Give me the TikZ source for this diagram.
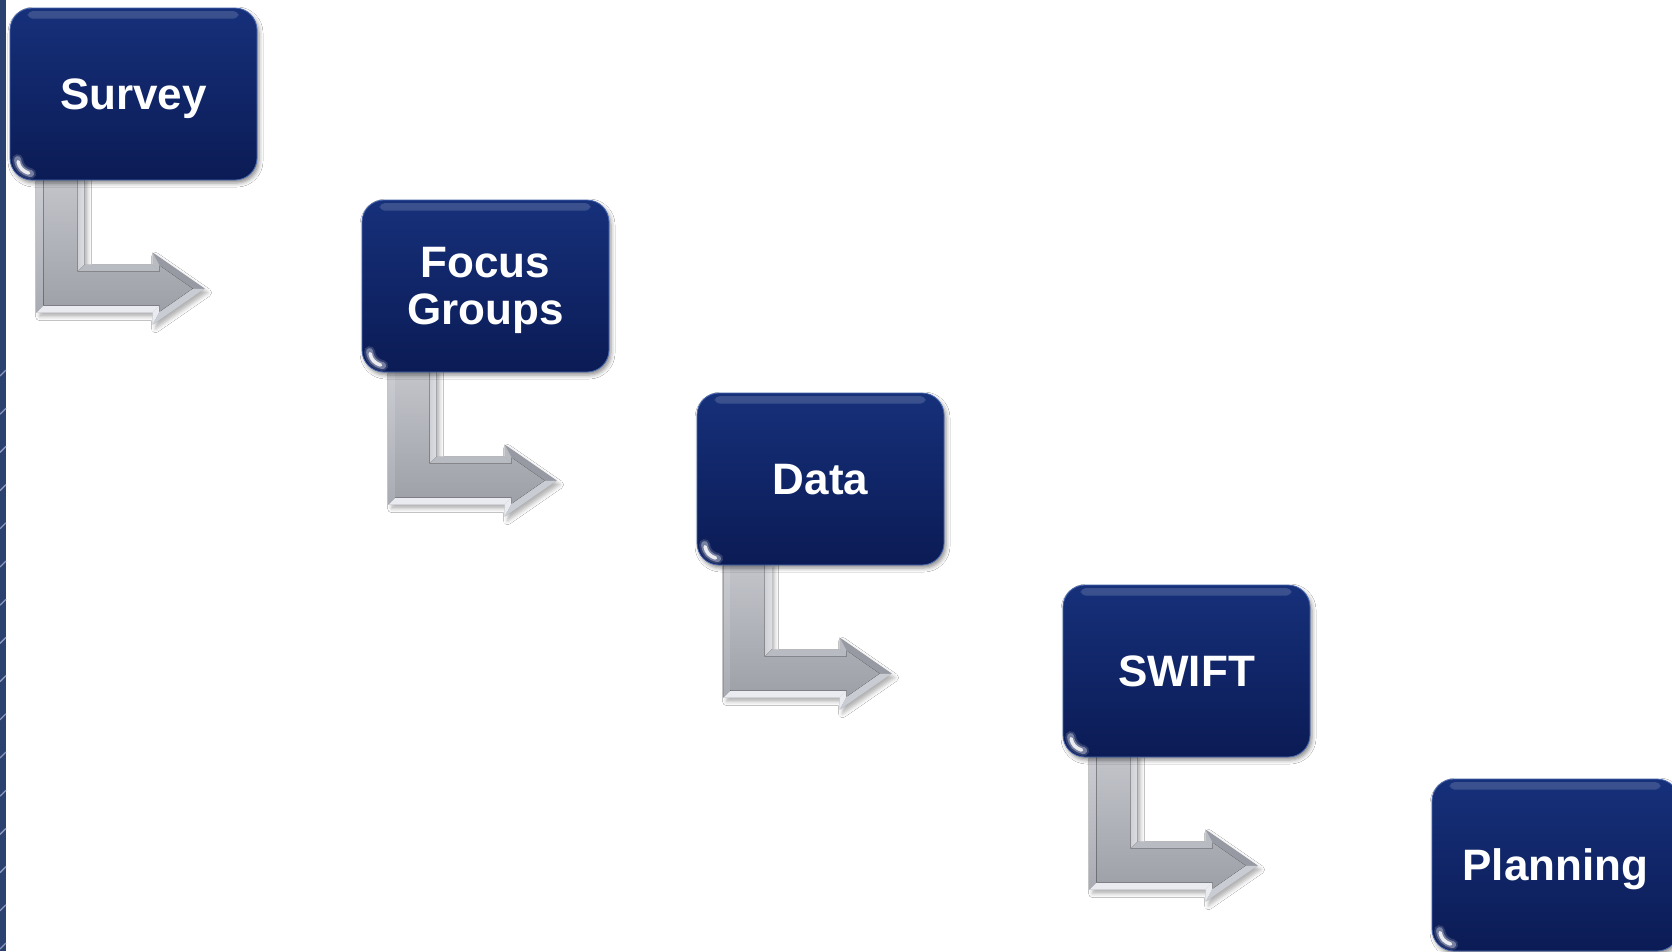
\documentclass[tikz,border=0pt]{standalone}
\usepackage{fontspec}
\setmainfont{Liberation Sans}
\usetikzlibrary{shadows.blur,backgrounds}

\definecolor{navytop}{HTML}{16307A}
\definecolor{navybot}{HTML}{0B1B55}
\definecolor{navyedge}{HTML}{4A68B0}
\definecolor{strip}{HTML}{2B4170}
\definecolor{tick}{HTML}{8A98BE}
\definecolor{facetop}{HTML}{C3C5CB}
\definecolor{facebot}{HTML}{9EA0A8}
\definecolor{lefttop}{HTML}{CBCDD3}
\definecolor{leftbot}{HTML}{A9ABB2}
\definecolor{bevlight}{HTML}{E9EBF0}
\definecolor{bevinner}{HTML}{DCDEE4}
\definecolor{bevshelf}{HTML}{B9BBC2}
\definecolor{bevdark}{HTML}{979AA2}
\definecolor{bevlow}{HTML}{CACCD3}

\tikzset{
  stagebox/.style={rounded corners=22pt, minimum width=247pt, minimum height=172pt,
    inner sep=0pt, text=white, font=\bfseries\fontsize{44}{47}\selectfont,
    align=center, text depth=0pt, top color=navytop, bottom color=navybot,
    draw=navyedge, line width=0.8pt,
    blur shadow={shadow xshift=2pt, shadow yshift=-3pt, shadow blur radius=4pt, shadow opacity=45}},
  arrowshadow/.style={blur shadow={shadow xshift=3pt, shadow yshift=-4pt, shadow blur radius=4pt, shadow opacity=30}},
  gloss/.style={white, opacity=.16},
  glint/.style={white, line cap=round},
}

% bent steel arrow hanging below a stage box; its tip is stored as a coordinate
\newcommand{\bentarrow}[2]{%
  \begin{scope}[shift={(#1.north west)}]
    % outline with shadow
    \fill[facebot, arrowshadow]
      (27,170) -- (27,305) -- (143,305) -- (143,317) -- (195,281) -- (143,245)
      -- (143,257) -- (75,257) -- (75,170) -- cycle;
    % bevel facets
    \fill[top color=lefttop, bottom color=leftbot] (27,170) -- (27,305) -- (34,298) -- (34,170) -- cycle;
    \fill[bevlight] (27,305) -- (143,305) -- (150,298) -- (34,298) -- cycle;
    \fill[bevlight] (143,305) -- (143,317) -- (150,304) -- (150,298) -- cycle;
    \fill[bevlow] (143,317) -- (195,281) -- (183,281) -- (150,304) -- cycle;
    \fill[bevdark] (195,281) -- (143,245) -- (150,258) -- (183,281) -- cycle;
    \fill[bevshelf] (143,245) -- (143,257) -- (150,264) -- (150,258) -- cycle;
    \fill[bevshelf] (143,257) -- (75,257) -- (68,264) -- (150,264) -- cycle;
    \fill[left color=bevinner!85!gray, right color=bevinner] (75,257) -- (75,170) -- (68,170) -- (68,264) -- cycle;
    % main face
    \fill[top color=facetop, bottom color=facebot]
      (34,170) -- (34,298) -- (150,298) -- (150,304) -- (183,281) -- (150,258)
      -- (150,264) -- (68,264) -- (68,170) -- cycle;
    \coordinate (#2) at (195,281);
  \end{scope}}

% glossy rim and lower-left glint of a stage box
\newcommand{\boxgloss}[1]{%
  \begin{scope}[shift={(#1.north west)}]
    \fill[gloss, rounded corners=5pt] (18,3.5) rectangle (229,11);
    \draw[glint, line width=11pt, opacity=.15] (8,152) .. controls (9,160) and (13,164) .. (21,166);
    \draw[glint, line width=7pt, opacity=.35] (8,152) .. controls (9,160) and (13,164) .. (21,166);
    \draw[glint, line width=3.5pt, opacity=.85] (8.5,154) .. controls (9.5,160) and (13,163.5) .. (19,165.5);
  \end{scope}}

\begin{document}
\begin{tikzpicture}[x=1pt, y=-1pt]
  \useasboundingbox (0,0) rectangle (1672,951);
  \clip (0,0) rectangle (1672,951);

  % stage boxes
  \node[stagebox] (survey)   at (133.5,94)   {Survey};
  \node[stagebox] (focus)    at (485.5,286)  {Focus\\Groups};
  \node[stagebox] (data)     at (820.5,479)  {Data};
  \node[stagebox] (swift)    at (1186.5,671) {SWIFT};
  \node[stagebox] (planning) at (1555.5,865) {Planning};

  \boxgloss{survey}
  \boxgloss{focus}
  \boxgloss{data}
  \boxgloss{swift}
  \boxgloss{planning}

  \begin{scope}[on background layer]
    \fill[white] (0,0) rectangle (1672,951);
    % ribbon down the left edge
    \fill[strip] (0,0) rectangle (6,951);
    \foreach \i in {0,...,15}
      \draw[tick, line width=1.3pt] (0,{376+38.2*\i}) -- (6,{370+38.2*\i});
    % arrows tucked under the boxes
    \bentarrow{survey}{t1}
    \bentarrow{focus}{t2}
    \bentarrow{data}{t3}
    \bentarrow{swift}{t4}
  \end{scope}
\end{tikzpicture}
\end{document}
